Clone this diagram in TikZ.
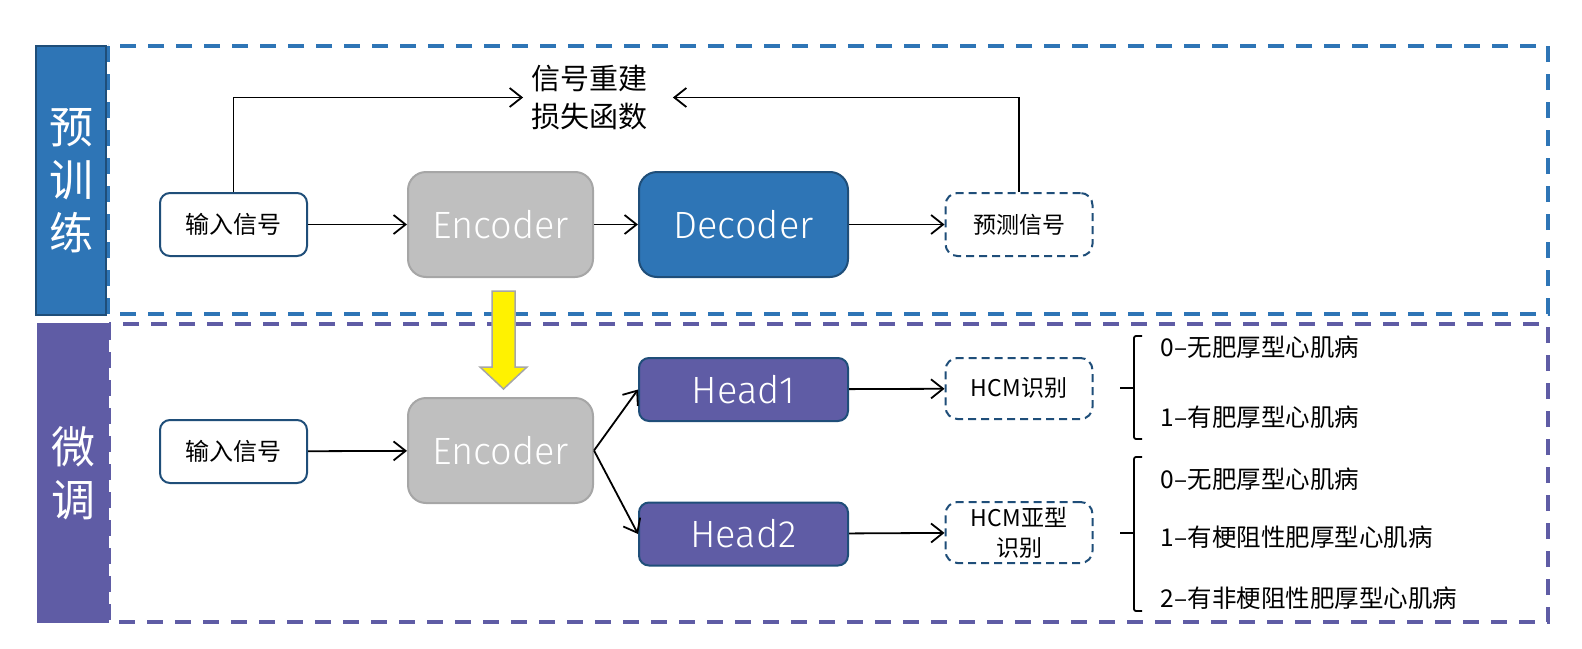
\documentclass[tikz,border=0pt]{standalone}
\usepackage{fontspec}
\setmainfont{Noto Sans CJK SC}
\newfontfamily\thinfont{Fira Sans}[UprightFont=* Light]
\usepackage{tikz}
\usetikzlibrary{arrows.meta,positioning,calc}
\definecolor{ptblue}{RGB}{46,117,182}
\definecolor{ptdark}{RGB}{31,78,121}
\definecolor{ftpurple}{RGB}{95,92,165}
\definecolor{encgray}{RGB}{191,191,191}
\definecolor{encline}{RGB}{166,166,166}

\begin{document}
\begin{tikzpicture}[x=1pt, y=-1pt, ->, >={Straight Barb[length=12pt,width=19pt]},
 line width=1.8pt,
 frame/.style={-, line width=3.5pt, dash pattern=on 16pt off 12pt},
 tag/.style={rectangle, minimum width=70pt, minimum height=269pt, inner sep=0pt,
   align=center, text=white, font=\fontsize{44pt}{53pt}\selectfont},
 sig/.style={draw=ptdark, line width=2pt, rounded corners=10pt, fill=white,
   minimum width=147pt, minimum height=63pt, inner sep=0pt,
   font=\fontsize{24pt}{30pt}\selectfont},
 outbox/.style={sig, dash pattern=on 8pt off 5pt, rounded corners=12pt,
   align=center, font=\fontsize{23pt}{30pt}\selectfont},
 coder/.style={rounded corners=18pt, line width=2pt, minimum width=185pt,
   minimum height=105pt, inner sep=0pt, text=white,
   font=\thinfont\fontsize{38pt}{44pt}\selectfont},
 headbox/.style={coder, rounded corners=10pt, draw=ptdark, fill=ftpurple,
   minimum width=209pt, minimum height=63pt},
 cls/.style={anchor=west, inner sep=0pt, font=\fontsize{24.5pt}{30pt}\selectfont}]
\useasboundingbox (0,0) rectangle (1582,648);

% stage frames
\draw[frame, draw=ptblue] (108,46) rectangle (1548,314);
\draw[frame, draw=ftpurple] (109,324) rectangle (1548,622);
\node[tag, fill=ptblue, draw=ptdark, line width=2pt] (pretag) at (71,180.5) {预\\训\\练};
\node[tag, fill=ftpurple, minimum height=300pt, minimum width=72pt] (fttag) at (73,473) {微\\调};

% pre-training
\node[sig] (in1) at (233.5,224.5) {输入信号};
\node[coder, draw=encline, fill=encgray] (enc1) at (500.5,224.5) {Encoder};
\node[coder, draw=ptdark, fill=ptblue, minimum width=209pt] (dec) at (743.5,224.5) {Decoder};
\node[outbox] (pred) at (1019,224.5) {预测信号};
\node[align=center, inner sep=0pt, font=\fontsize{29pt}{38pt}\selectfont] (loss) at (589,97.5) {信号重建\\损失函数};

\path (in1) edge (enc1);
\path (enc1) edge (dec);
\path (dec) edge (pred);
\draw (in1.north) |- ([xshift=-7pt]loss.west);
\draw (pred.north) |- ([xshift=25pt]loss.east);

% transfer of the encoder
\draw[-, fill=yellow, draw=encline, line width=1.5pt] (492,291) -- (515,291) -- (515,367)
  -- (527,367) -- (503.5,389) -- (480,367) -- (492,367) -- cycle;

% fine-tuning
\node[sig] (in2) at (233.5,451.5) {输入信号};
\node[coder, draw=encline, fill=encgray] (enc2) at (500.5,450.5) {Encoder};
\node[headbox] (head1) at (743.5,389.5) {Head1};
\node[headbox] (head2) at (743.5,534) {Head2};
\node[outbox, minimum height=61pt] (hcm1) at (1019,388.5) {HCM识别};
\node[outbox, minimum height=61pt] (hcm2) at (1019,532.5) {HCM亚型\\识别};

\path (in2) edge (enc2);
\path (enc2.east) edge (head1.west);
\path (enc2.east) edge (head2.west);
\path (head1) edge (hcm1);
\path (head2) edge (hcm2);

% class lists
\draw[-, rounded corners=2pt] (1142,336) -- (1134,336) -- (1134,439) -- (1142,439);
\draw[-] (1120,388) -- (1134,388);
\draw[-, rounded corners=2pt] (1142,457) -- (1134,457) -- (1134,611) -- (1142,611);
\draw[-] (1120,533) -- (1134,533);
\node[cls] (c10) at (1160,347) {0–无肥厚型心肌病};
\node[cls] (c11) at (1160,417) {1–有肥厚型心肌病};
\node[cls] (c20) at (1160,479) {0–无肥厚型心肌病};
\node[cls] (c21) at (1160,537) {1–有梗阻性肥厚型心肌病};
\node[cls] (c22) at (1160,598) {2–有非梗阻性肥厚型心肌病};
\end{tikzpicture}
\end{document}
